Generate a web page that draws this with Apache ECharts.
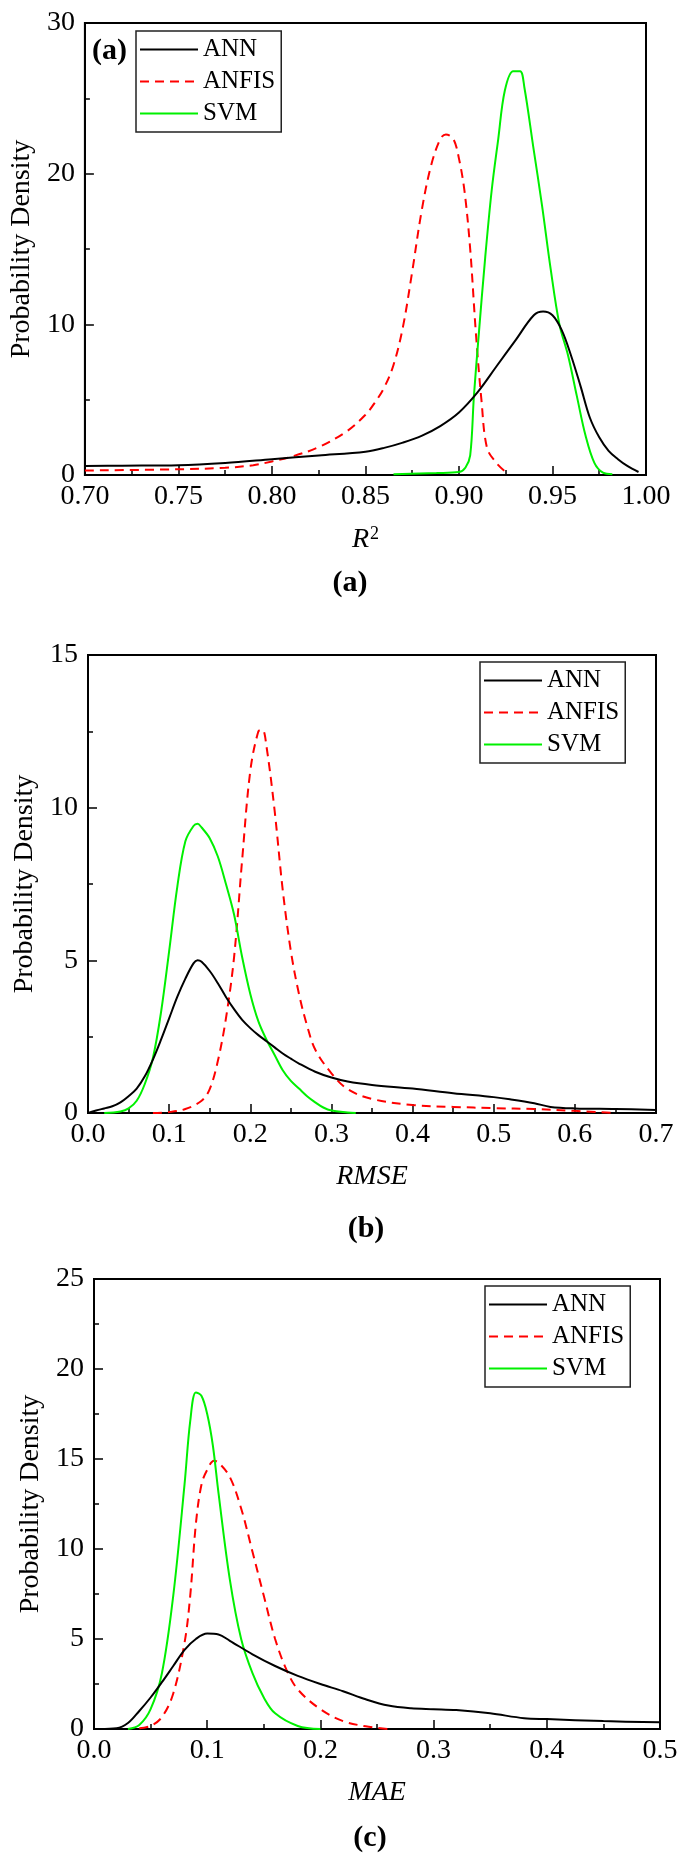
<!DOCTYPE html>
<html>
<head>
<meta charset="utf-8">
<script src="https://cdn.jsdelivr.net/npm/echarts@6/dist/echarts.min.js"></script>
<style>
html,body{margin:0;padding:0;background:#fff;}
#chart{width:685px;height:1866px;}
</style>
</head>
<body>
<div id="chart"></div>
<script>
// ---------------- DATA ----------------
const seriesNames = ['ANN', 'ANFIS', 'SVM'];

// Panel (a) R^2
const r2ANN = [[0.70,0.6],[0.72,0.62],[0.75,0.65],[0.775,0.8],[0.80,1.05],[0.825,1.3],[0.85,1.55],[0.86,1.8],[0.87,2.15],[0.88,2.6],[0.89,3.25],[0.90,4.15],[0.91,5.5],[0.92,7.2],[0.93,8.9],[0.94,10.6],[0.945,10.85],[0.95,10.6],[0.955,9.6],[0.96,7.9],[0.965,5.9],[0.97,3.8],[0.975,2.5],[0.98,1.6],[0.985,1.05],[0.99,0.6],[0.996,0.2]];
const r2ANFIS = [[0.70,0.3],[0.75,0.38],[0.775,0.48],[0.79,0.65],[0.80,0.9],[0.81,1.2],[0.825,1.85],[0.84,2.9],[0.85,4.0],[0.855,4.8],[0.86,5.8],[0.865,7.3],[0.87,9.8],[0.875,13.5],[0.88,17.5],[0.885,20.5],[0.89,22.3],[0.893,22.6],[0.897,22.3],[0.90,21.0],[0.903,18.8],[0.906,15.0],[0.909,9.5],[0.912,5.0],[0.915,1.8],[0.92,0.8],[0.925,0.2]];
const r2SVM = [[0.865,0.05],[0.888,0.13],[0.90,0.2],[0.9035,0.5],[0.906,1.3],[0.908,5.25],[0.9105,9.2],[0.914,14.4],[0.9175,18.9],[0.921,22.3],[0.9245,25.5],[0.929,26.8],[0.9327,26.8],[0.935,25.7],[0.9397,21.8],[0.9444,17.9],[0.949,13.7],[0.9537,10.0],[0.9584,7.9],[0.963,5.25],[0.9677,2.6],[0.9724,0.8],[0.977,0.15],[0.982,0.05]];

// Panel (b) RMSE
const rmseANN = [[0.0,0.0],[0.01,0.08],[0.02,0.15],[0.03,0.22],[0.04,0.35],[0.05,0.55],[0.06,0.8],[0.07,1.2],[0.08,1.75],[0.09,2.4],[0.10,3.1],[0.11,3.8],[0.12,4.4],[0.13,4.9],[0.135,5.0],[0.14,4.95],[0.15,4.65],[0.16,4.25],[0.17,3.8],[0.18,3.4],[0.19,3.05],[0.20,2.78],[0.21,2.55],[0.22,2.35],[0.23,2.15],[0.24,1.95],[0.25,1.78],[0.26,1.62],[0.28,1.35],[0.30,1.16],[0.32,1.03],[0.35,0.92],[0.40,0.8],[0.45,0.65],[0.50,0.52],[0.52,0.45],[0.55,0.32],[0.57,0.2],[0.60,0.15],[0.65,0.13],[0.70,0.1]];
const rmseANFIS = [[0.08,0.0],[0.10,0.03],[0.12,0.13],[0.14,0.4],[0.15,0.78],[0.16,1.7],[0.17,3.1],[0.18,5.1],[0.19,8.3],[0.20,11.2],[0.21,12.5],[0.215,12.55],[0.22,12.0],[0.23,9.9],[0.24,7.3],[0.25,5.3],[0.26,3.9],[0.27,2.86],[0.28,2.08],[0.30,1.3],[0.32,0.78],[0.35,0.46],[0.40,0.26],[0.45,0.2],[0.50,0.16],[0.55,0.13],[0.60,0.07],[0.65,0.0]];
const rmseSVM = [[0.02,0.0],[0.04,0.05],[0.05,0.15],[0.06,0.4],[0.07,0.95],[0.08,1.8],[0.09,3.3],[0.10,5.3],[0.11,7.4],[0.12,8.9],[0.13,9.4],[0.135,9.47],[0.14,9.35],[0.15,9.0],[0.16,8.4],[0.17,7.5],[0.18,6.5],[0.19,5.1],[0.20,3.9],[0.21,3.0],[0.22,2.4],[0.23,1.9],[0.24,1.4],[0.25,1.05],[0.26,0.8],[0.27,0.55],[0.28,0.35],[0.29,0.18],[0.30,0.08],[0.32,0.02],[0.33,0.0]];

// Panel (c) MAE
const maeANN = [[0.005,0.0],[0.02,0.04],[0.03,0.33],[0.04,1.0],[0.05,1.75],[0.06,2.6],[0.07,3.5],[0.08,4.4],[0.09,5.0],[0.10,5.3],[0.11,5.25],[0.12,4.9],[0.14,4.15],[0.16,3.5],[0.18,2.95],[0.20,2.5],[0.22,2.1],[0.24,1.65],[0.26,1.3],[0.28,1.15],[0.30,1.1],[0.32,1.05],[0.35,0.87],[0.38,0.6],[0.40,0.55],[0.45,0.44],[0.50,0.37]];
const maeANFIS = [[0.04,0.04],[0.05,0.17],[0.06,0.66],[0.07,1.97],[0.08,4.8],[0.085,7.4],[0.09,11.4],[0.095,13.6],[0.10,14.4],[0.106,14.9],[0.11,14.8],[0.12,14.0],[0.13,12.25],[0.14,9.85],[0.15,7.4],[0.16,5.0],[0.17,3.3],[0.18,2.2],[0.20,1.1],[0.22,0.44],[0.24,0.15],[0.26,0.0]];
const maeSVM = [[0.03,0.0],[0.04,0.22],[0.05,1.1],[0.06,3.1],[0.07,7.4],[0.08,13.6],[0.085,17.1],[0.09,18.7],[0.095,18.5],[0.10,17.5],[0.105,15.75],[0.11,13.1],[0.12,8.3],[0.13,5.0],[0.14,3.1],[0.15,1.75],[0.16,0.87],[0.18,0.17],[0.20,0.0]];

const xTitles = ['R2', 'RMSE', 'MAE'];
const yTitle = 'Probability Density';
const captions = ['(a)', '(b)', '(c)'];

// ---------------- STYLE / LAYOUT ----------------
const FONT = "'Liberation Serif', 'Times New Roman', serif";
const colors = {ANN: '#000000', ANFIS: '#ff0000', SVM: '#00f000'};
const dashes = {ANN: 'solid', ANFIS: [9, 6], SVM: 'solid'};

const grids = [
  {left: 84, top: 23, width: 562, height: 452},
  {left: 88, top: 655, width: 568, height: 458},
  {left: 94, top: 1279, width: 566, height: 450}
];
const xCfg = [
  {min: 0.70, max: 1.00, interval: 0.05, dec: 2},
  {min: 0, max: 0.7, interval: 0.1, dec: 1},
  {min: 0, max: 0.5, interval: 0.1, dec: 1}
];
const yCfg = [
  {min: 0, max: 30, interval: 10},
  {min: 0, max: 15, interval: 5},
  {min: 0, max: 25, interval: 5}
];
const legendPos = [
  {left: 136, top: 31},
  {left: 480, top: 662},
  {left: 485, top: 1286}
];
const panelData = [
  {ANN: r2ANN, ANFIS: r2ANFIS, SVM: r2SVM},
  {ANN: rmseANN, ANFIS: rmseANFIS, SVM: rmseSVM},
  {ANN: maeANN, ANFIS: maeANFIS, SVM: maeSVM}
];

const xAxes = xCfg.map((c, i) => ({
  type: 'value', gridIndex: i, min: c.min, max: c.max, interval: c.interval,
  axisLine: {show: true, onZero: false, lineStyle: {color: '#000', width: 2}},
  axisTick: {show: true, inside: true, length: 9, lineStyle: {color: '#000', width: 1.5}},
  minorTick: {show: true, splitNumber: 2, length: 5, lineStyle: {color: '#000', width: 1.5}},
  splitLine: {show: false},
  axisLabel: {color: '#000', fontFamily: FONT, fontSize: 28, margin: 8,
    formatter: v => Number(v).toFixed(c.dec)},
  name: i === 0 ? '{i|R}{s|2}' : '{i|' + xTitles[i] + '}',
  nameLocation: 'middle', nameGap: 50,
  nameTextStyle: {
    rich: {
      i: {fontFamily: FONT, fontStyle: 'italic', fontSize: 28, color: '#000'},
      s: {fontFamily: FONT, fontSize: 18, color: '#000', verticalAlign: 'top', padding: [0, 0, 12, 1]}
    }
  }
}));

const yAxes = yCfg.map((c, i) => ({
  type: 'value', gridIndex: i, min: c.min, max: c.max, interval: c.interval,
  axisLine: {show: true, onZero: false, lineStyle: {color: '#000', width: 2}},
  axisTick: {show: true, inside: true, length: 9, lineStyle: {color: '#000', width: 1.5}},
  minorTick: {show: true, splitNumber: 2, length: 5, lineStyle: {color: '#000', width: 1.5}},
  splitLine: {show: false},
  axisLabel: {color: '#000', fontFamily: FONT, fontSize: 28, margin: 10},
  name: yTitle, nameLocation: 'middle', nameGap: 44,
  nameTextStyle: {fontFamily: FONT, fontSize: 28, color: '#000'}
}));

const series = [];
panelData.forEach((pd, i) => {
  seriesNames.forEach(n => {
    series.push({
      name: n, type: 'line', xAxisIndex: i, yAxisIndex: i,
      data: pd[n], showSymbol: false, symbol: 'none', smooth: 0.35,
      lineStyle: {color: colors[n], width: 2, type: dashes[n]},
      itemStyle: {color: colors[n]},
      z: n === 'ANN' ? 3 : 2,
      animation: false
    });
  });
});

const legends = legendPos.map(p => ({
  data: seriesNames, orient: 'vertical', left: p.left, top: p.top,
  itemWidth: 58, itemHeight: 2, itemGap: 7,
  padding: [6, 6, 6, 3],
  borderColor: '#222', borderWidth: 1.5, backgroundColor: '#fff',
  itemStyle: {opacity: 0},
  textStyle: {fontFamily: FONT, fontSize: 25, color: '#000', lineHeight: 25},
  selectedMode: false
}));

const chart = echarts.init(document.getElementById('chart'), null, {renderer: 'canvas'});
chart.setOption({
  backgroundColor: '#fff',
  animation: false,
  grid: grids.map(g => Object.assign({show: true, borderColor: '#000', borderWidth: 2, backgroundColor: 'transparent', containLabel: false}, g)),
  xAxis: xAxes,
  yAxis: yAxes,
  legend: legends,
  series: series,
  graphic: [
    {type: 'text', left: 92, top: 36, style: {text: '(a)', fontFamily: FONT, fontSize: 30, fontWeight: 'bold', fill: '#000'}},
    {type: 'text', x: 350, y: 583, style: {text: captions[0], fontFamily: FONT, fontSize: 30, fontWeight: 'bold', fill: '#000', align: 'center', verticalAlign: 'middle'}},
    {type: 'text', x: 366, y: 1229, style: {text: captions[1], fontFamily: FONT, fontSize: 30, fontWeight: 'bold', fill: '#000', align: 'center', verticalAlign: 'middle'}},
    {type: 'text', x: 370, y: 1838, style: {text: captions[2], fontFamily: FONT, fontSize: 30, fontWeight: 'bold', fill: '#000', align: 'center', verticalAlign: 'middle'}}
  ]
});
</script>
</body>
</html>
